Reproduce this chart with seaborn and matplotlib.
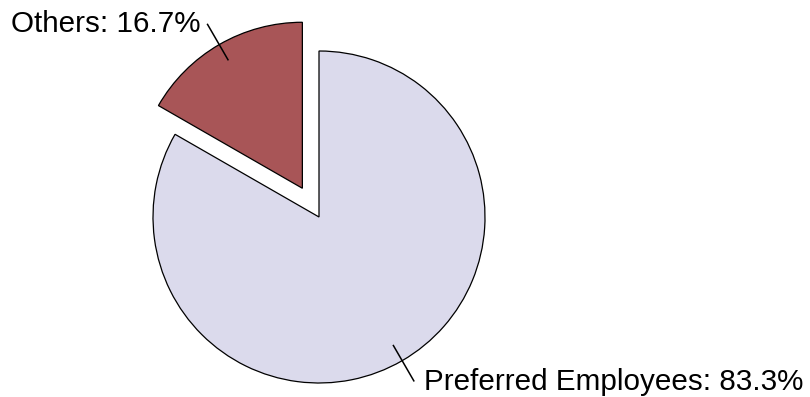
import numpy as np
import matplotlib
matplotlib.use("Agg")
import matplotlib.pyplot as plt
import matplotlib.transforms as mtransforms
import seaborn as sns

# Share of staff by category
categories = ["Others", "Preferred Employees"]
shares = [16.7, 83.3]
explode = [0.2, 0.0]
colors = ["#A85557", "#DBDAEC"]

sns.set_theme(style="white")
plt.rcParams["font.family"] = ["Liberation Sans", "DejaVu Sans"]

W, H, DPI = 810, 397, 100
fig = plt.figure(figsize=(W / DPI, H / DPI), dpi=DPI)
ax = fig.add_axes([0, 0, 1, 1])

wedges, _ = ax.pie(
    shares, explode=explode, colors=colors, startangle=90, counterclock=True,
    wedgeprops=dict(edgecolor="black", linewidth=0.9),
)

# Place the pie: centre and radius in pixels
cx, cy, r = 319, 217, 166
ax.set_aspect("auto")
ax.set_xlim(-cx / r, (W - cx) / r)
ax.set_ylim(-(H - cy) / r, cy / r)
ax.axis("off")

# Leader lines and labels (offsets in pixels: right, down)
label_offsets = {
    "Others": (-7, 8, "right"),
    "Preferred Employees": (10, 8, "left"),
}
for w, name, val, ex in zip(wedges, categories, shares, explode):
    mid = np.deg2rad((w.theta1 + w.theta2) / 2)
    ox, oy = ex * np.cos(mid), ex * np.sin(mid)
    x0, y0 = ox + 0.89 * np.cos(mid), oy + 0.89 * np.sin(mid)
    x1, y1 = ox + 1.145 * np.cos(mid), oy + 1.145 * np.sin(mid)
    ax.plot([x0, x1], [y0, y1], color="black", lw=1.1, solid_capstyle="butt")
    dx, dy, ha = label_offsets[name]
    tr = ax.transData + mtransforms.ScaledTranslation(dx / DPI, -dy / DPI, fig.dpi_scale_trans)
    ax.text(x1, y1, f"{name}: {val:.1f}%", transform=tr, ha=ha, va="baseline",
            fontsize=21.3, color="black")

fig.savefig("out.png", dpi=DPI, facecolor="white")
